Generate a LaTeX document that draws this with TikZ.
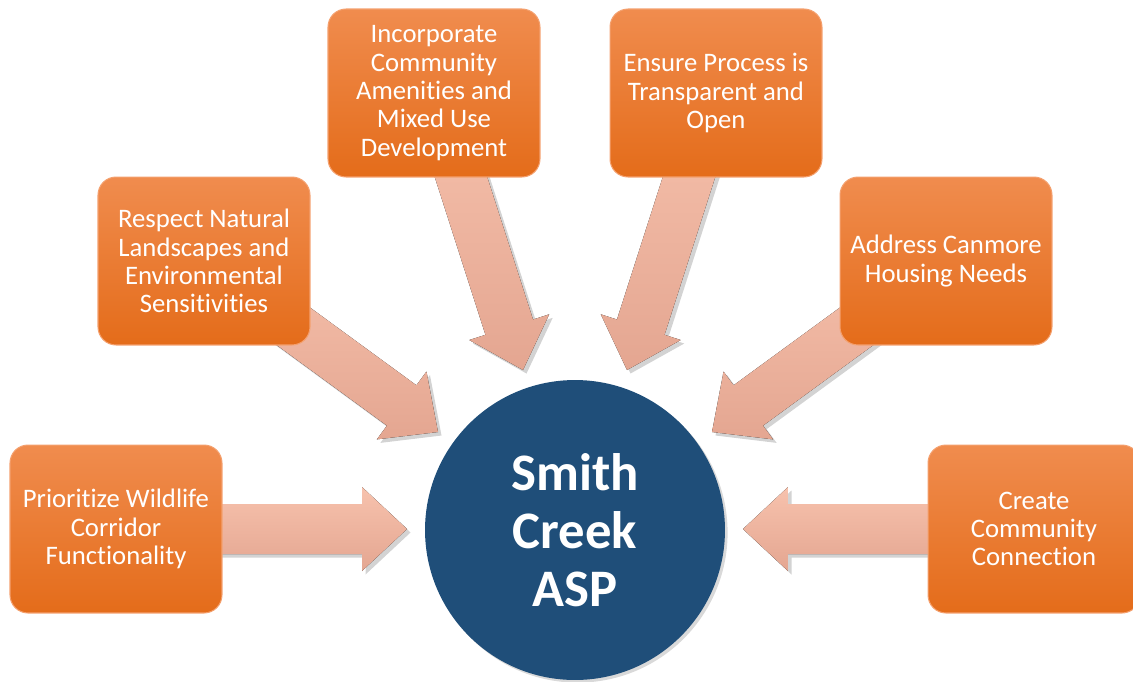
\documentclass[tikz,border=0pt]{standalone}
\usepackage{fontspec}
\setmainfont{Carlito}[Ligatures=NoCommon]
\usetikzlibrary{calc,shadows,backgrounds}

\definecolor{goaltop}{RGB}{240,140,78}
\definecolor{goalbot}{RGB}{228,108,26}
\definecolor{goalline}{RGB}{244,160,110}
\definecolor{arrowtop}{RGB}{247,194,173}
\definecolor{arrowbot}{RGB}{228,166,145}
\definecolor{hubblue}{RGB}{31,78,121}

% block arrow from a goal box (#1) to its tip (#2)
\newcommand{\goalarrow}[2]{%
  \coordinate (#2h) at ($(#2)!0.9cm!(#1)$);
  \fill[goalarrow] ($(#1)!0.5cm!90:(#2)$) -- ($(#2h)!0.5cm!90:(#2)$)
    -- ($(#2h)!0.84cm!90:(#2)$) -- (#2) -- ($(#2h)!0.84cm!-90:(#2)$)
    -- ($(#2h)!0.5cm!-90:(#2)$) -- ($(#1)!0.5cm!-90:(#2)$) -- cycle;
}

\begin{document}
\begin{tikzpicture}[x=0.02cm, y=-0.02cm,
  goalbox/.style={rectangle, rounded corners=0.36cm, minimum width=4.24cm,
    minimum height=3.36cm, inner sep=0pt, top color=goaltop, bottom color=goalbot,
    draw=goalline, line width=0.6pt, text=white, align=center,
    font=\fontsize{15.2}{16.1}\selectfont},
  hubnode/.style={circle, minimum size=6cm, inner sep=0pt, fill=hubblue,
    text=white, align=center, font=\bfseries\fontsize{30}{33}\selectfont,
    drop shadow={shadow xshift=1.5pt, shadow yshift=-1.5pt, opacity=0.3}},
  goalarrow/.style={top color=arrowtop, bottom color=arrowbot,
    drop shadow={shadow xshift=2pt, shadow yshift=-2pt, opacity=0.35}}]
\useasboundingbox (0,0) rectangle (1133,681);

\node[hubnode] (hub) at (575,530) {Smith\\Creek\\ASP};

\node[goalbox] (goal1) at (116,529) {Prioritize Wildlife\\Corridor\\Functionality};
\node[goalbox] (goal2) at (204,261) {Respect Natural\\Landscapes and\\Environmental\\Sensitivities};
\node[goalbox] (goal3) at (434,93) {Incorporate\\Community\\Amenities and\\Mixed Use\\Development};
\node[goalbox] (goal4) at (716,93) {Ensure Process is\\Transparent and\\Open};
\node[goalbox] (goal5) at (946,261) {Address Canmore\\Housing Needs};
\node[goalbox] (goal6) at (1034,529) {Create\\Community\\Connection};

\coordinate (tip1) at (407,529);
\coordinate (tip2) at (438,432);
\coordinate (tip3) at (523,370);
\coordinate (tip4) at (627,370);
\coordinate (tip5) at (712,432);
\coordinate (tip6) at (743,529);

\begin{scope}[on background layer]
\goalarrow{goal1}{tip1}
\goalarrow{goal2}{tip2}
\goalarrow{goal3}{tip3}
\goalarrow{goal4}{tip4}
\goalarrow{goal5}{tip5}
\goalarrow{goal6}{tip6}
\end{scope}

\end{tikzpicture}
\end{document}
